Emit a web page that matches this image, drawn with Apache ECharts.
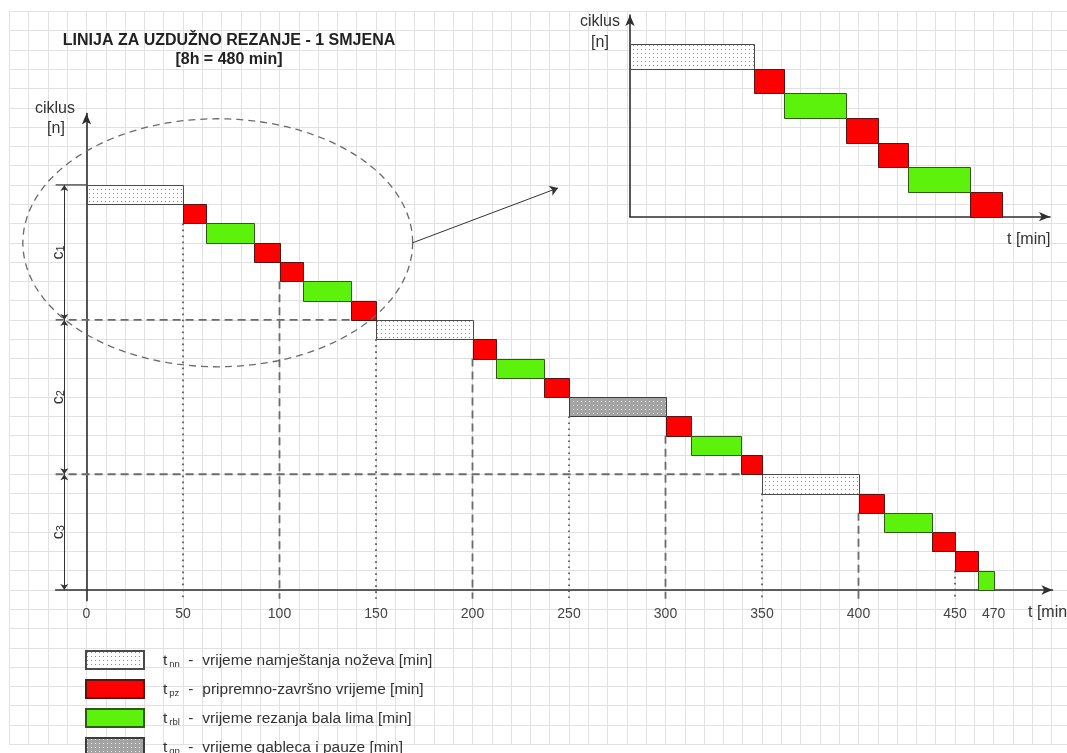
<!DOCTYPE html>
<html>
<head>
<meta charset="utf-8">
<title>Linija za uzdužno rezanje - 1 smjena</title>
<script src="https://cdn.jsdelivr.net/npm/echarts@6/dist/echarts.min.js"></script>
<style>
  html, body { margin: 0; padding: 0; background: #fff; }
  #chart { width: 1067px; height: 753px; }
</style>
</head>
<body>
<div id="chart"></div>
<script>
// one row per operation, top row first
var opTypes = ['nn', 'pz', 'rbl', 'pz', 'pz', 'rbl', 'pz',
  'nn', 'pz', 'rbl', 'pz', 'gp', 'pz', 'rbl', 'pz',
  'nn', 'pz', 'rbl', 'pz', 'pz', 'rbl']
var opStart = [0, 50, 62, 87, 100, 112, 137,
  150, 200, 212, 237, 250, 300, 313, 339,
  350, 400, 413, 438, 450, 462]
var opEnd = [50, 62, 87, 100, 112, 137, 150,
  200, 212, 237, 250, 300, 313, 339, 350,
  400, 413, 438, 450, 462, 470]

// cycles c1..c3 (first / last row)
var cycleNames = ['1', '2', '3']
var cycleFirstRow = [0, 7, 15]
var cycleLastRow = [6, 14, 20]

var tickValues = [0, 50, 100, 150, 200, 250, 300, 350, 400, 450, 470]

var legendTypes = ['nn', 'pz', 'rbl', 'gp']
var legendTexts = [
  'vrijeme namještanja noževa [min]',
  'pripremno-završno vrijeme [min]',
  'vrijeme rezanja bala lima [min]',
  'vrijeme gableca i pauze [min]'
]

// layout (pixels per minute / per row of the main diagram)
var ox = 86.5
var oy = 590
var pxMin = 1.93
var pxRow = 19.29
var FONT = 'Liberation Sans, Arial, sans-serif'

function box(xMin, xMax, yMin, yMax) {
  return {
    left: ox + xMin * pxMin,
    top: oy - yMax * pxRow,
    width: (xMax - xMin) * pxMin,
    height: (yMax - yMin) * pxRow,
    containLabel: false,
    outerBoundsMode: 'none'
  }
}

function dots(bg, dot) {
  var c = document.createElement('canvas')
  c.width = 4
  c.height = 4
  var ctx = c.getContext('2d')
  ctx.fillStyle = bg
  ctx.fillRect(0, 0, 4, 4)
  ctx.fillStyle = dot
  ctx.fillRect(1, 1, 1, 1)
  return { image: c, repeat: 'repeat' }
}

var typeStyle = {
  nn: { color: dots('#ffffff', '#8a8a8a'), borderColor: '#4a4a4a' },
  pz: { color: '#ff0000', borderColor: '#5a1212' },
  rbl: { color: '#5cf20c', borderColor: '#2e5a12' },
  gp: { color: dots('#a4a4a4', '#ececec'), borderColor: '#3c3c3c' }
}

var rowCount = opTypes.length

function blockData(type, rows, levels) {
  var out = []
  rows.forEach(function (i, k) {
    if (opTypes[i] === type) {
      out.push([opStart[i], opEnd[i], levels - 1 - k, levels - k])
    }
  })
  return out
}

function renderBlock(params, api) {
  var p0 = api.coord([api.value(0), api.value(3)])
  var p1 = api.coord([api.value(1), api.value(2)])
  var s = typeStyle[params.seriesName]
  return {
    type: 'rect',
    shape: {
      x: Math.round(p0[0]) + 0.5,
      y: Math.round(p0[1]) + 0.5,
      width: Math.round(p1[0]) - Math.round(p0[0]),
      height: Math.round(p1[1]) - Math.round(p0[1])
    },
    style: { fill: s.color, stroke: s.borderColor, lineWidth: 1 }
  }
}

var allRows = opTypes.map(function (t, i) { return i })
var insetRows = []
for (var r = cycleFirstRow[0]; r <= cycleLastRow[0]; r++) insetRows.push(r)

var series = []
legendTypes.forEach(function (t) {
  series.push({
    name: t,
    type: 'custom',
    xAxisIndex: 1,
    yAxisIndex: 1,
    renderItem: renderBlock,
    itemStyle: { color: typeStyle[t].color, borderColor: typeStyle[t].borderColor, borderWidth: 1 },
    data: blockData(t, allRows, rowCount),
    z: 5
  })
  series.push({
    name: t,
    type: 'custom',
    xAxisIndex: 2,
    yAxisIndex: 2,
    renderItem: renderBlock,
    itemStyle: { color: typeStyle[t].color, borderColor: typeStyle[t].borderColor, borderWidth: 1 },
    data: blockData(t, insetRows, insetRows.length),
    z: 5
  })
})

// guide lines: [x1, y1, x2, y2, kind] kind 0 solid, 1 dashed, 2 dotted
var guides = []
var axisLeft = -16
var belowAxis = -0.45
opStart.forEach(function (x, i) {
  if (x > 0 && x % 50 === 0) {
    guides.push([x, rowCount - 1 - i, x, belowAxis, x % 100 === 0 ? 1 : 2])
  }
})
cycleFirstRow.forEach(function (first, c) {
  var level = rowCount - first
  if (c === 0) {
    guides.push([axisLeft, level, 0, level, 0])
  } else {
    guides.push([axisLeft, level, opStart[first - 1], level, 1])
  }
})

series.push({
  type: 'custom',
  xAxisIndex: 1,
  yAxisIndex: 1,
  silent: true,
  z: 3,
  data: guides,
  renderItem: function (params, api) {
    var a = api.coord([api.value(0), api.value(1)])
    var b = api.coord([api.value(2), api.value(3)])
    var kind = api.value(4)
    var style = { stroke: '#333', lineWidth: 1.2 }
    if (kind === 1) style = { stroke: '#6b6b6b', lineWidth: 1.8, lineDash: [8, 5] }
    if (kind === 2) style = { stroke: '#555', lineWidth: 1.7, lineDash: [1.7, 4.3] }
    return { type: 'line', shape: { x1: a[0], y1: a[1], x2: b[0], y2: b[1] }, style: style }
  }
})

// dimension lines c1..c3
var dimX = -11.5
series.push({
  type: 'lines',
  coordinateSystem: 'cartesian2d',
  xAxisIndex: 1,
  yAxisIndex: 1,
  silent: true,
  symbol: ['arrow', 'arrow'],
  symbolSize: 6,
  lineStyle: { color: '#333', width: 1, opacity: 1 },
  z: 4,
  data: cycleFirstRow.map(function (first, c) {
    return { coords: [[dimX, rowCount - first], [dimX, rowCount - 1 - cycleLastRow[c]]] }
  })
})

series.push({
  type: 'custom',
  xAxisIndex: 1,
  yAxisIndex: 1,
  silent: true,
  z: 4,
  data: cycleFirstRow.map(function (first, c) {
    return [-14.8, (rowCount - first + rowCount - 1 - cycleLastRow[c]) / 2, c]
  }),
  renderItem: function (params, api) {
    var p = api.coord([api.value(0), api.value(1)])
    return {
      type: 'text',
      x: p[0],
      y: p[1],
      rotation: Math.PI / 2,
      style: {
        text: '{c|c}{s|' + cycleNames[api.value(2)] + '}',
        align: 'center',
        verticalAlign: 'middle',
        rich: {
          c: { fontSize: 16, fontFamily: FONT, fill: '#333', lineHeight: 18, verticalAlign: 'bottom' },
          s: { fontSize: 11, fontFamily: FONT, fill: '#333', lineHeight: 18, verticalAlign: 'bottom', padding: [5, 0, 0, 0] }
        }
      }
    }
  }
})

// zoom ellipse around cycle 1 and arrow to the inset
var ellipse = [68, 18, 101, 6.43]
var arrowEnd = [244.3, 20.84]
series.push({
  type: 'custom',
  xAxisIndex: 1,
  yAxisIndex: 1,
  silent: true,
  z: 6,
  data: [ellipse],
  renderItem: function (params, api) {
    var pts = []
    for (var k = 0; k <= 120; k++) {
      var a = k / 120 * Math.PI * 2
      pts.push(api.coord([api.value(0) + api.value(2) * Math.cos(a), api.value(1) + api.value(3) * Math.sin(a)]))
    }
    return { type: 'polyline', shape: { points: pts }, style: { stroke: '#6a6a6a', lineWidth: 1.3, lineDash: [7, 5], fill: null } }
  }
})
series.push({
  type: 'lines',
  coordinateSystem: 'cartesian2d',
  xAxisIndex: 1,
  yAxisIndex: 1,
  silent: true,
  symbol: ['none', 'arrow'],
  symbolSize: 8,
  lineStyle: { color: '#333', width: 1, opacity: 1 },
  z: 6,
  data: [{ coords: [[ellipse[0] + ellipse[2], ellipse[1]], arrowEnd] }]
})

var hiddenAxis = {
  axisLine: { show: false },
  axisTick: { show: false },
  axisLabel: { show: false },
  splitLine: { show: false }
}
function arrowLine() {
  return { show: true, onZero: true, symbol: ['none', 'arrow'], symbolSize: [7, 11], lineStyle: { color: '#2e2e2e', width: 1.6 } }
}

var insetBox = { left: 630, top: 15, width: 420, height: 201.7, containLabel: false, outerBoundsMode: 'none' }

var textStyle = { fontFamily: FONT, fontSize: 16, fill: '#333' }
function label(text, x, y, align, extra) {
  var st = Object.assign({}, textStyle, { text: text, align: align, verticalAlign: 'middle' }, extra || {})
  return { type: 'text', x: x, y: y, style: st, z: 10 }
}

var chart = echarts.init(document.getElementById('chart'), null, { renderer: 'canvas' })
chart.setOption({
  animation: false,
  backgroundColor: '#fff',
  grid: [
    box(-40, 510, -8, 30),
    box(axisLeft, 500.5, -0.55, 24.7),
    insetBox
  ],
  xAxis: [
    Object.assign({ gridIndex: 0, type: 'value', min: -40, max: 510, interval: 10 }, hiddenAxis,
      { splitLine: { show: true, lineStyle: { color: '#e1e1e1', width: 1 } } }),
    {
      gridIndex: 1, type: 'value', min: axisLeft, max: 500.5,
      axisLine: arrowLine(),
      axisTick: { show: false },
      splitLine: { show: false },
      axisLabel: { customValues: tickValues, color: '#444', fontSize: 14, fontFamily: FONT, margin: 7 }
    },
    Object.assign({ gridIndex: 2, type: 'value', min: 0, max: 169.4 }, hiddenAxis, { axisLine: arrowLine() })
  ],
  yAxis: [
    Object.assign({ gridIndex: 0, type: 'value', min: -8, max: 30, interval: 1 }, hiddenAxis,
      { splitLine: { show: true, lineStyle: { color: '#e1e1e1', width: 1 } } }),
    Object.assign({ gridIndex: 1, type: 'value', min: -0.55, max: 24.7 }, hiddenAxis, { axisLine: arrowLine() }),
    Object.assign({ gridIndex: 2, type: 'value', min: 0, max: 8.17 }, hiddenAxis, { axisLine: arrowLine() })
  ],
  legend: {
    data: legendTypes,
    orient: 'vertical',
    left: 85,
    top: 650,
    height: 160,
    padding: 0,
    icon: 'rect',
    itemWidth: 58,
    itemHeight: 18,
    itemGap: 9,
    selectedMode: false,
    formatter: function (name) {
      return '{t|t}{s|' + name + '}{m|-}{d|' + legendTexts[legendTypes.indexOf(name)] + '}'
    },
    textStyle: {
      rich: {
        t: { fontSize: 15.5, fontFamily: FONT, color: '#333', padding: [0, 2, 0, 14], lineHeight: 18, verticalAlign: 'bottom' },
        s: { fontSize: 9.5, fontFamily: FONT, color: '#333', width: 19, lineHeight: 14, verticalAlign: 'bottom' },
        m: { fontSize: 15.5, fontFamily: FONT, color: '#333', width: 14, lineHeight: 18, verticalAlign: 'bottom' },
        d: { fontSize: 15.5, fontFamily: FONT, color: '#333', lineHeight: 18, verticalAlign: 'bottom' }
      }
    }
  },
  graphic: [
    label('LINIJA ZA UZDUŽNO REZANJE - 1 SMJENA', 229, 41, 'center', { fontWeight: 'bold', fontSize: 16, fill: '#222' }),
    label('[8h = 480 min]', 229, 60, 'center', { fontWeight: 'bold', fontSize: 16, fill: '#222' }),
    label('ciklus', 55, 109, 'center'),
    label('[n]', 56, 129, 'center'),
    label('t [min]', 1028, 613, 'left'),
    label('ciklus', 600, 22, 'center'),
    label('[n]', 600, 43, 'center'),
    label('t [min]', 1007, 240, 'left')
  ],
  series: series
})
</script>
</body>
</html>
